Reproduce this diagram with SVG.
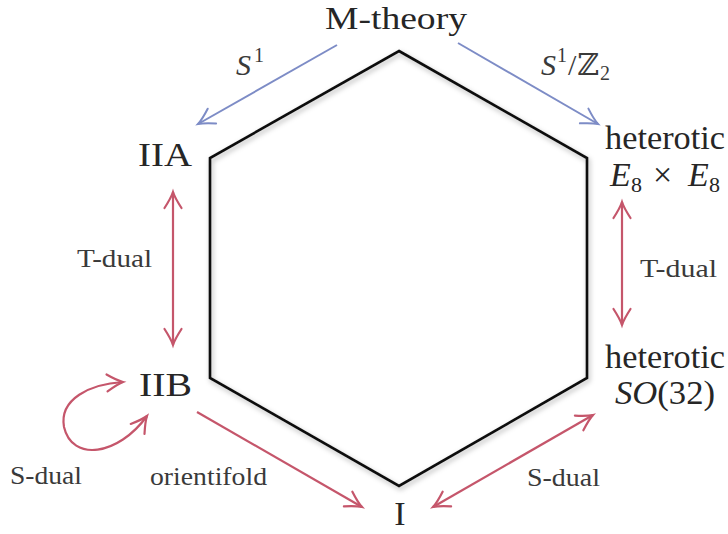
<svg xmlns="http://www.w3.org/2000/svg" width="728" height="534" viewBox="0 0 728 534">
<style>
.big{font-family:'Liberation Serif',serif;font-size:34px;fill:#262626}
.lab{font-family:'Liberation Serif',serif;font-size:25px;fill:#3a3a3a}
.it{font-style:italic}
.blue{stroke:#7d8cc6;stroke-width:2;fill:none}
.red{stroke:#c5566b;stroke-width:2.2;fill:none}
.hex{stroke:#111;stroke-width:2.6;fill:none;stroke-linejoin:miter}
</style>
<defs>
<marker id="ab" markerUnits="userSpaceOnUse" markerWidth="30" markerHeight="30" refX="0" refY="0" viewBox="-20 -15 30 30" orient="auto-start-reverse">
<path d="M-16,-8.5 Q-6,-2 0,0 Q-6,2 -16,8.5" stroke="#7d8cc6" stroke-width="2" fill="none" stroke-linecap="round"/>
</marker>
<marker id="ar" markerUnits="userSpaceOnUse" markerWidth="30" markerHeight="30" refX="0" refY="0" viewBox="-20 -15 30 30" orient="auto-start-reverse">
<path d="M-16,-8.5 Q-6,-2 0,0 Q-6,2 -16,8.5" stroke="#c5566b" stroke-width="2.2" fill="none" stroke-linecap="round"/>
</marker>
<filter id="sh" x="-10%" y="-10%" width="120%" height="120%">
<feDropShadow dx="1.5" dy="2.5" stdDeviation="2.5" flood-color="#000" flood-opacity="0.3"/>
</filter>
</defs>

<g id="hexagon">
<polygon class="hex" filter="url(#sh)" points="399,51 587,158 587,378 399,486 210,378 210,158"/>
</g>

<g id="connectors">
<line class="blue" x1="337" y1="45" x2="198" y2="124" marker-end="url(#ab)"/>
<line class="blue" x1="458" y1="43" x2="598" y2="124" marker-end="url(#ab)"/>
<line class="red" x1="173" y1="192" x2="173" y2="345" marker-start="url(#ar)" marker-end="url(#ar)"/>
<line class="red" x1="622" y1="202" x2="622" y2="325" marker-start="url(#ar)" marker-end="url(#ar)"/>
<line class="red" x1="197" y1="412" x2="362" y2="507" marker-end="url(#ar)"/>
<line class="red" x1="433" y1="507" x2="593" y2="415" marker-start="url(#ar)" marker-end="url(#ar)"/>
<path class="red" d="M147,416 C118,456 72,462 64,427 C59,399 90,384 123,382" marker-start="url(#ar)" marker-end="url(#ar)"/>
</g>

<g id="edge-labels">
<text class="lab it" x="236" y="75" style="font-size:30px">S</text>
<text class="lab" x="254" y="62" style="font-size:20px">1</text>
<text class="lab it" x="541" y="75" style="font-size:30px">S</text>
<text class="lab" x="557" y="62" style="font-size:20px">1</text>
<text class="lab" x="568" y="75" style="font-size:30px">/</text>
<text class="lab" x="577" y="75" style="font-size:30px;font-family:'DejaVu Serif',serif">ℤ</text>
<text class="lab" x="600" y="80" style="font-size:20px">2</text>
<text class="lab" x="77" y="267" textLength="75" lengthAdjust="spacingAndGlyphs">T-dual</text>
<text class="lab" x="640" y="277" textLength="77" lengthAdjust="spacingAndGlyphs">T-dual</text>
<text class="lab" x="150" y="485" textLength="117" lengthAdjust="spacingAndGlyphs">orientifold</text>
<text class="lab" x="10" y="484" textLength="72" lengthAdjust="spacingAndGlyphs">S-dual</text>
<text class="lab" x="527" y="486" textLength="73" lengthAdjust="spacingAndGlyphs">S-dual</text>
</g>

<g id="node-mtheory">
<text class="big" x="325" y="29" style="font-size:31px" textLength="142" lengthAdjust="spacingAndGlyphs">M-theory</text>
</g>
<g id="node-IIA">
<text class="big" x="138" y="166" textLength="54" lengthAdjust="spacingAndGlyphs">IIA</text>
</g>
<g id="node-IIB">
<text class="big" x="139" y="396" textLength="53" lengthAdjust="spacingAndGlyphs">IIB</text>
</g>
<g id="node-I">
<text class="big" x="400" y="525" text-anchor="middle">I</text>
</g>
<g id="node-E8">
<text class="big" x="605" y="149" textLength="120" lengthAdjust="spacingAndGlyphs">heterotic</text>
<text class="big it" x="610" y="186">E</text>
<text class="big" x="631" y="192" style="font-size:22px">8</text>
<text class="big" x="653" y="186">×</text>
<text class="big it" x="688" y="186">E</text>
<text class="big" x="709" y="192" style="font-size:22px">8</text>
</g>
<g id="node-SO32">
<text class="big" x="605" y="368" textLength="120" lengthAdjust="spacingAndGlyphs">heterotic</text>
<text class="big" x="615" y="404" textLength="100" lengthAdjust="spacingAndGlyphs"><tspan class="it">SO</tspan>(32)</text>
</g>
</svg>
